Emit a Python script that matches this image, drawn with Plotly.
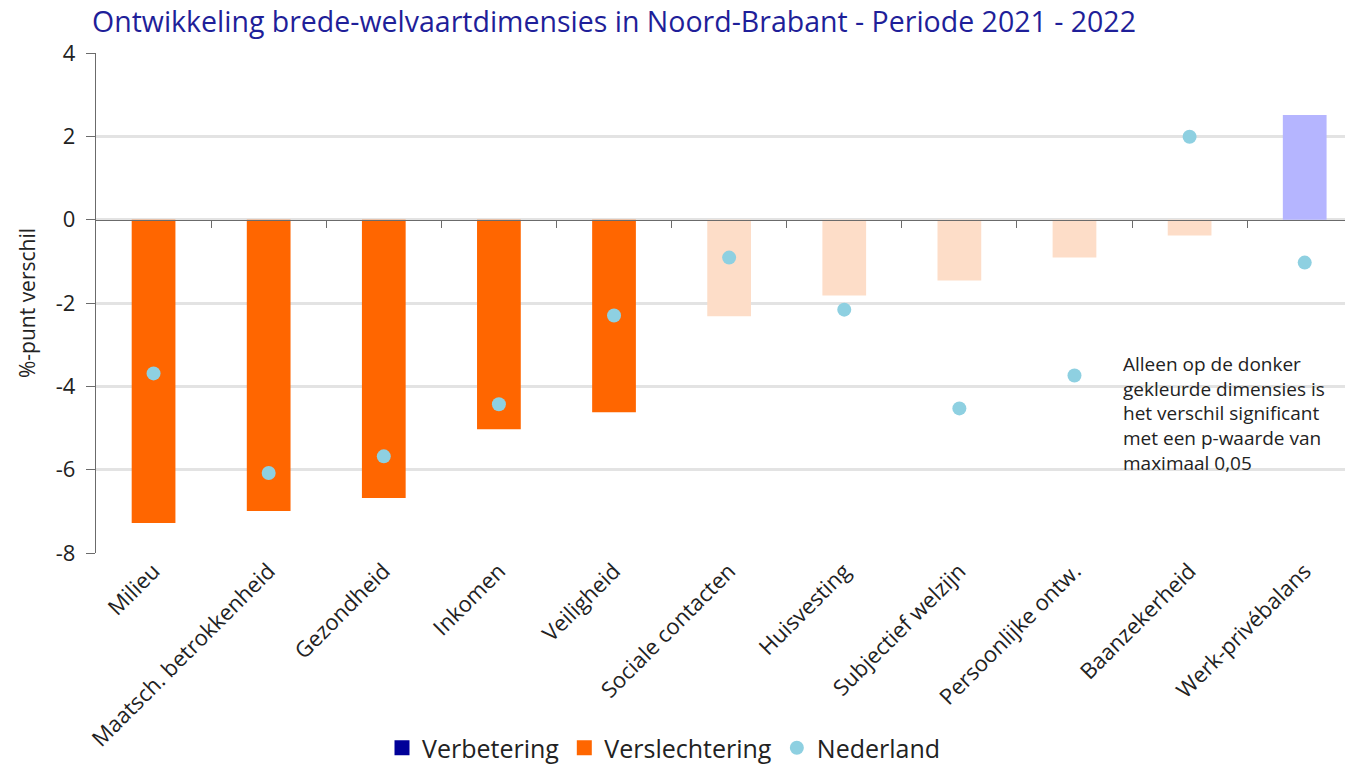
import plotly.graph_objects as go

categories = ["Milieu", "Maatsch. betrokkenheid", "Gezondheid", "Inkomen", "Veiligheid",
              "Sociale contacten", "Huisvesting", "Subjectief welzijn", "Persoonlijke ontw.",
              "Baanzekerheid", "Werk-privébalans"]
noord_brabant = [-7.28, -6.99, -6.68, -5.03, -4.62, -2.32, -1.82, -1.46, -0.91, -0.38, 2.51]
nederland = [-3.69, -6.08, -5.68, -4.43, -2.30, -0.91, -2.16, -4.53, -3.74, 1.99, -1.03]
significant = [True, True, True, True, True, False, False, False, False, False, False]
y_ticks = [-8, -6, -4, -2, 0, 2, 4]
y_tick_labels = ["-8", "-6", "-4", "-2", "0", "2", "4"]

C_UP_DARK = "#000099"
C_UP_LIGHT = "#B5B5FF"
C_DOWN_DARK = "#FF6600"
C_DOWN_LIGHT = "#FDDDC8"
C_NL = "#8ED0E1"

colors = []
for v, s in zip(noord_brabant, significant):
    if v >= 0:
        colors.append(C_UP_DARK if s else C_UP_LIGHT)
    else:
        colors.append(C_DOWN_DARK if s else C_DOWN_LIGHT)

FONT = "Open Sans"
TXT = "#222222"

fig = go.Figure()
fig.add_trace(go.Bar(x=categories, y=noord_brabant, marker=dict(color=colors, line_width=0),
                     width=0.38, showlegend=False, name="Noord-Brabant"))
# legend-only entries
fig.add_trace(go.Scatter(x=[categories[0]], y=[None], mode="markers", name="Verbetering",
                         marker=dict(symbol="square", size=15, color=C_UP_DARK, line_width=0)))
fig.add_trace(go.Scatter(x=[categories[0]], y=[None], mode="markers", name="Verslechtering",
                         marker=dict(symbol="square", size=15, color=C_DOWN_DARK, line_width=0)))
fig.add_trace(go.Scatter(x=categories, y=nederland, mode="markers", name="Nederland",
                         marker=dict(color=C_NL, size=14, line_width=0)))
# boundary ticks on the zero line
fig.add_trace(go.Scatter(x=[None], y=[None], xaxis="x2", showlegend=False, hoverinfo="skip"))

n = len(categories)
xr = [-0.5, n - 0.5 - 0.15]

fig.update_layout(
    width=1345, height=764,
    margin=dict(l=96, r=0, t=53, b=211, autoexpand=False),
    paper_bgcolor="white", plot_bgcolor="white",
    barmode="overlay",
    font=dict(family=FONT, color=TXT, size=20),
    title=dict(text="Ontwikkeling brede-welvaartdimensies in Noord-Brabant - Periode 2021 - 2022",
               x=92 / 1345, xref="container", xanchor="left",
               y=1 - 22 / 764, yref="container", yanchor="middle", pad=dict(l=0, r=0, t=0, b=0),
               font=dict(family=FONT, size=28.5, color="#1F1F99")),
    xaxis=dict(type="category", range=xr, tickangle=-45, showgrid=False, showline=False,
               ticks="", tickfont=dict(size=22, color=TXT), automargin=False),
    xaxis2=dict(overlaying="x", anchor="free", position=8 / 12, range=xr, side="bottom",
                showticklabels=False, showgrid=False, zeroline=False, showline=True,
                linecolor="#6b6b6b", linewidth=1.3, ticks="outside", ticklen=7,
                tickcolor="#6b6b6b", tickwidth=1.3, automargin=False,
                tickvals=[i + 0.5 for i in range(n - 1)]),
    yaxis=dict(range=[-8, 4], tickvals=y_ticks, ticktext=y_tick_labels,
               showgrid=True, gridcolor="#E3E3E3", gridwidth=2.5,
               zeroline=False, showline=True, linecolor="#6b6b6b", linewidth=1.3,
               ticks="outside", ticklen=9, tickcolor="#6b6b6b", automargin=False,
               ticklabelstandoff=6,
               tickfont=dict(size=22, color=TXT),
               title=dict(text="%-punt verschil", font=dict(size=21, color=TXT), standoff=14)),
    legend=dict(orientation="h", xref="container", x=664 / 1345, xanchor="center",
                yref="container", y=1 - 748 / 764, yanchor="middle",
                font=dict(size=25, color=TXT), itemwidth=30, traceorder="normal"),
    annotations=[dict(text="Alleen op de donker<br>gekleurde dimensies is<br>het verschil significant"
                           "<br>met een p-waarde van<br>maximaal 0,05",
                      xref="paper", x=(1121 - 96) / 1249, xanchor="left",
                      yref="y", y=-3.1, yanchor="top", align="left", showarrow=False,
                      font=dict(size=19, color=TXT))],
)

fig.write_html("out.html", config={"displayModeBar": False},
               post_script="document.body.style.margin='0';")
